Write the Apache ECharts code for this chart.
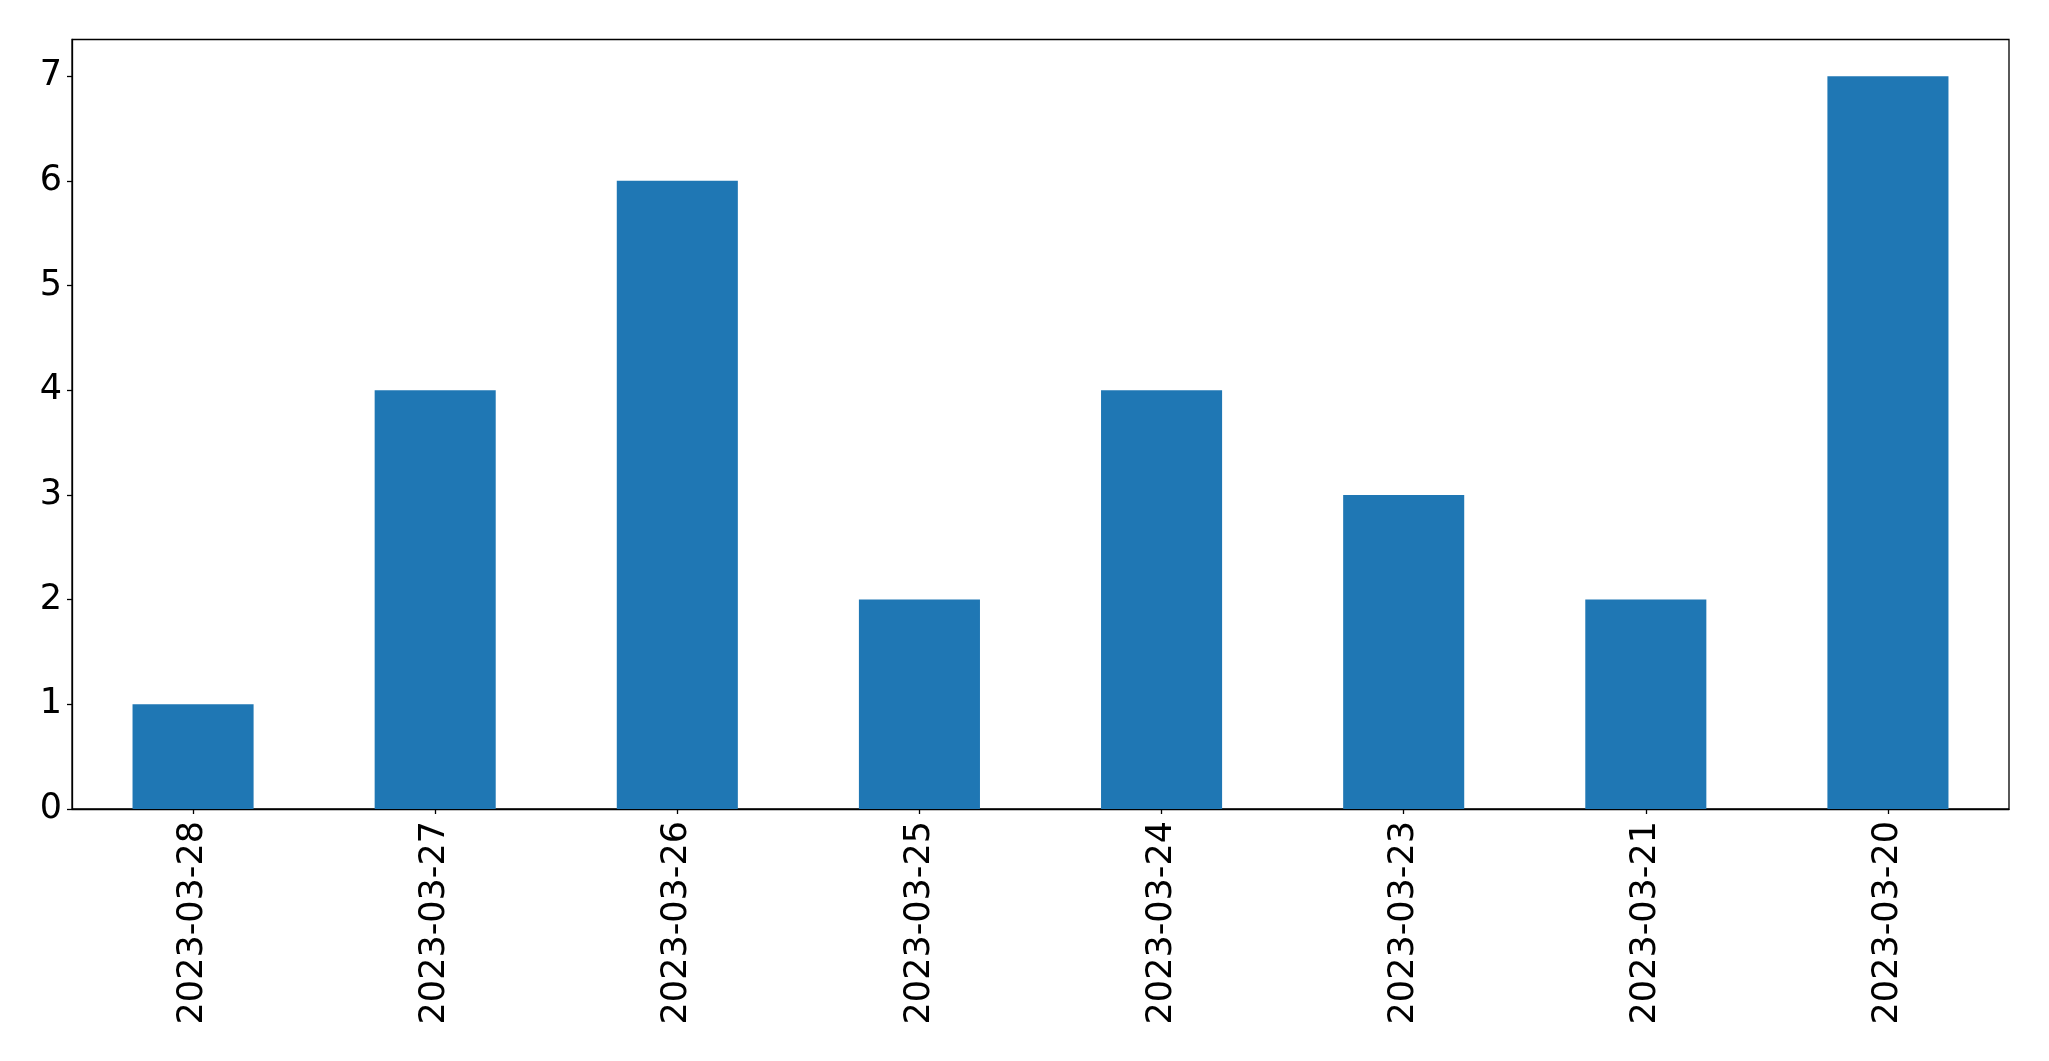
<!DOCTYPE html>
<html>
<head>
<meta charset="utf-8">
<script src="https://cdn.jsdelivr.net/npm/echarts@6/dist/echarts.min.js"></script>
<style>
  html, body { margin: 0; padding: 0; background: #fff; }
  #chart { width: 2049px; height: 1061px; }
</style>
</head>
<body>
<div id="chart"></div>
<script>
const categories = ['2023-03-28', '2023-03-27', '2023-03-26', '2023-03-25', '2023-03-24', '2023-03-23', '2023-03-21', '2023-03-20'];
const values = [1, 4, 6, 2, 4, 3, 2, 7];
const yMin = 0;
const yMax = 7.35;
const yInterval = 1;

const chart = echarts.init(document.getElementById('chart'), null, { renderer: 'canvas' });
const font = 'DejaVu Sans';
chart.setOption({
  animation: false,
  backgroundColor: '#ffffff',
  grid: {
    left: 72, right: 40, top: 39.5, bottom: 252,
    show: true, borderColor: '#000', borderWidth: 1.3, backgroundColor: 'transparent'
  },
  xAxis: {
    type: 'category',
    data: categories,
    boundaryGap: true,
    axisLine: { show: true, lineStyle: { color: '#000', width: 1.3 } },
    axisTick: { show: true, alignWithLabel: true, length: 5, lineStyle: { color: '#000', width: 1.3 } },
    axisLabel: { rotate: 90, margin: 12, color: '#000', fontFamily: font, fontSize: 35, interval: 0 },
    splitLine: { show: false }
  },
  yAxis: {
    type: 'value',
    min: yMin, max: yMax, interval: yInterval,
    axisLine: { show: true, lineStyle: { color: '#000', width: 1.3 } },
    axisTick: { show: true, length: 5, lineStyle: { color: '#000', width: 1.3 } },
    axisLabel: {
      margin: 10, color: '#000', fontFamily: font, fontSize: 35,
      showMaxLabel: false,
      formatter: v => (Math.abs(v - Math.round(v)) < 1e-9 ? String(Math.round(v)) : '')
    },
    splitLine: { show: false }
  },
  series: [{
    type: 'bar',
    data: values,
    barWidth: '50%',
    itemStyle: { color: '#1f77b4' }
  }]
});
</script>
</body>
</html>
